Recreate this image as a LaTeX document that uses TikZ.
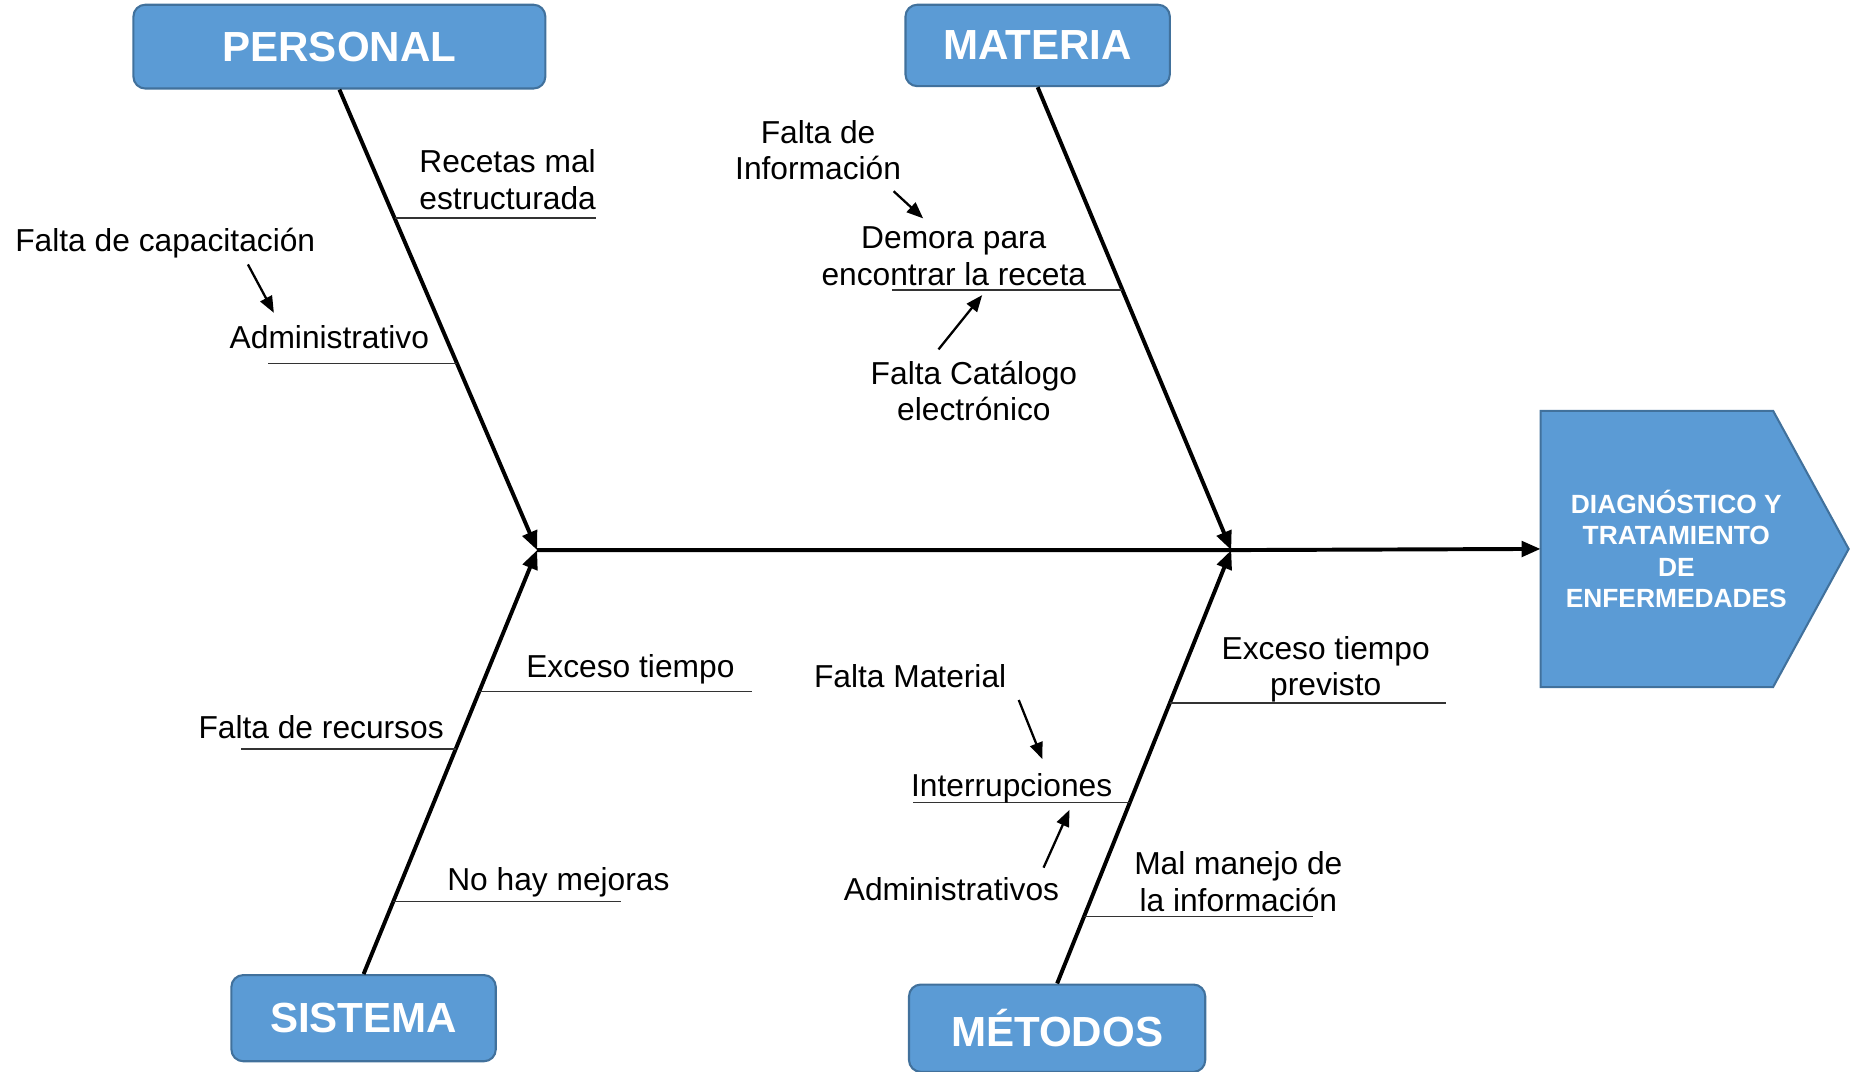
\documentclass[tikz,border=0pt]{standalone}
\usepackage{fontspec}
\setmainfont{Liberation Sans}
\usepackage{tikz}
\usetikzlibrary{arrows.meta, positioning, calc}
\definecolor{colorBox}{HTML}{5B9BD5}
\definecolor{colorBoxEdge}{HTML}{41719C}
\tikzset{
  category/.style={rectangle, rounded corners=0.2cm, fill=colorBox, draw=colorBoxEdge, line width=1pt, text=white, font=\fontsize{20.3}{24}\selectfont\bfseries},
  effect/.style={align=center, inner sep=0pt, text=white, font=\fontsize{12.7}{15.2}\selectfont\bfseries},
  cause/.style={align=center, inner sep=0pt, font=\fontsize{15.3}{17.6}\selectfont},
  spine/.style={line width=1.9pt},
  bone/.style={line width=1.9pt, ->},
  twig/.style={line width=0.6pt, black!80},
  hint/.style={line width=1.1pt, -{Triangle[length=0.28cm, width=0.22cm]}},
}

\begin{document}
\begin{tikzpicture}[x=0.02cm, y=0.02cm, >={Triangle[length=0.32cm, width=0.26cm]}]
\useasboundingbox (0,0) rectangle (1568,-908);
% categories
\node[category, minimum width=6.98cm, minimum height=1.42cm] (personal) at (287.5,-39.5) {PERSONAL};
\node[category, minimum width=4.48cm, minimum height=1.38cm] (materia) at (879,-38.5) {MATERIA};
\node[category, minimum width=4.48cm, minimum height=1.46cm] (sistema) at (308,-862.5) {SISTEMA};
\node[category, minimum width=5.02cm, minimum height=1.48cm] (metodos) at (895.5,-871) {MÉTODOS};
% effect
\coordinate (tip) at (1305,-465);
\draw[fill=colorBox, draw=colorBoxEdge, line width=1pt] ($(tip)+(0,117)$) -- ++(197,0) -- ++(64,-117) -- ++(-64,-117) -- ++(-197,0) -- cycle;
\node[effect] (diag) at (1420,-465) {DIAGNÓSTICO Y\\TRATAMIENTO\\DE\\ENFERMEDADES};
% spine and bones
\coordinate (jL) at (455,-466);
\coordinate (jR) at (1043,-466);
\draw[spine, ->] (jL) -- (jR) -- (tip);
\draw[bone] (personal.south) -- (jL);
\draw[bone] (materia.south) -- (jR);
\draw[bone] (sistema.north) -- (jL);
\draw[bone] (metodos.north) -- (jR);
% twigs
\coordinate (p1) at ($(personal.south)!0.279!(jL)$);
\coordinate (p2) at ($(personal.south)!0.595!(jL)$);
\coordinate (m1) at ($(materia.south)!0.438!(jR)$);
\coordinate (s1) at ($(sistema.north)!0.667!(jL)$);
\coordinate (s2) at ($(sistema.north)!0.531!(jL)$);
\coordinate (s3) at ($(sistema.north)!0.172!(jL)$);
\coordinate (t1) at ($(metodos.north)!0.647!(jR)$);
\coordinate (t2) at ($(metodos.north)!0.418!(jR)$);
\coordinate (t3) at ($(metodos.north)!0.155!(jR)$);
\draw[twig] (p1) -- ($(p1)+(171,0)$);
\draw[twig] (p2) -- ($(p2)+(-160,0)$);
\draw[twig] (m1) -- ($(m1)+(-195,0)$);
\draw[twig] (s1) -- ($(s1)+(231,0)$);
\draw[twig] (s2) -- ($(s2)+(-182,0)$);
\draw[twig] (s3) -- ($(s3)+(193,0)$);
\draw[twig] (t1) -- ($(t1)+(234,0)$);
\draw[twig] (t2) -- ($(t2)+(-184,0)$);
\draw[twig] (t3) -- ($(t3)+(194,0)$);
% causes
\node[cause] (recetas) at (430,-152) {Recetas mal\\estructurada};
\node[cause] (capac) at (140,-206) {Falta de capacitación};
\node[cause] (admP) at (279,-286) {Administrativo};
\node[cause] (info) at (693,-127) {Falta de\\Información};
\node[cause] (demora) at (808,-217) {Demora para\\encontrar la receta};
\node[cause] (catal) at (825,-331) {Falta Catálogo\\electrónico};
\node[cause] (excS) at (534,-567) {Exceso tiempo};
\node[cause] (recur) at (272,-616) {Falta de recursos};
\node[cause] (mejor) at (473,-747) {No hay mejoras};
\node[cause] (excM) at (1123,-567) {Exceso tiempo\\previsto};
\node[cause] (faltaMat) at (771,-573) {Falta Material};
\node[cause] (interr) at (857,-668) {Interrupciones};
\node[cause] (admM) at (806,-753) {Administrativos};
\node[cause] (malman) at (1049,-747) {Mal manejo de\\la información};
% sub-cause arrows
\draw[hint] ($(capac)+(70,-18)$) -- ($(admP)+(-47,21)$);
\draw[hint] ($(info)+(64,-35)$) -- ($(demora)+(-26,32)$);
\draw[hint] ($(catal)+(-30,35)$) -- ($(demora)+(24,-33)$);
\draw[hint] ($(faltaMat)+(92,-20)$) -- ($(interr)+(26,25)$);
\draw[hint] ($(admM)+(78,18)$) -- ($(interr)+(49,-18)$);
\end{tikzpicture}
\end{document}
